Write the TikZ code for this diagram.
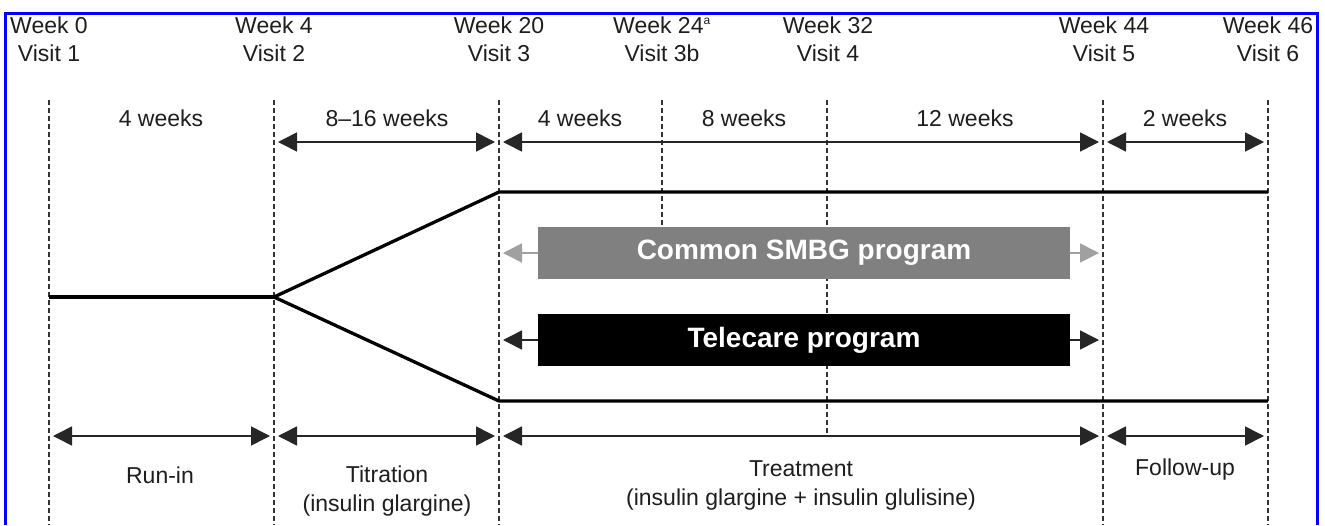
\documentclass[tikz,border=0pt]{standalone}
\usepackage{fontspec}
\setmainfont{Liberation Sans}
\usetikzlibrary{arrows.meta}
\definecolor{framblue}{RGB}{0,0,255}
\definecolor{boxgray}{RGB}{128,128,128}
\definecolor{arrgray}{RGB}{160,160,160}
\definecolor{txtgray}{RGB}{30,30,30}
\tikzset{
  bigtip/.tip={Triangle[length=19pt,width=19pt]},
  vline/.style={draw=black!80, line width=1.1pt, dash pattern=on 5pt off 3pt},
  armline/.style={draw=black, line width=3.3pt},
  span/.style={draw=black!85, line width=1.6pt, bigtip-bigtip},
  prog/.style={minimum width=532pt, minimum height=52pt, inner sep=0pt, text=white, font=\fontsize{28}{30}\selectfont\bfseries},
  lbl/.style={text=txtgray, font=\fontsize{23}{29}\selectfont, inner sep=0pt, align=center},
  hdr/.style={text=txtgray, font=\fontsize{23}{28}\selectfont, inner sep=0pt, align=center, anchor=north},
  progarrow/.style={line width=1.6pt, -bigtip}
}
\begin{document}
\begin{tikzpicture}[x=1pt,y=-1pt]
\useasboundingbox (0,0) rectangle (1325,525);
\fill[white] (0,0) rectangle (1325,525);
% frame
\draw[framblue, line width=3pt] (5,525) -- (5,13) -- (1317,13) -- (1317,525);

% column coordinates
\coordinate (atop) at (49,100);   \coordinate (abot) at (49,525);
\coordinate (btop) at (274,100);  \coordinate (bbot) at (274,525);
\coordinate (ctop) at (499,100);  \coordinate (cbot) at (499,525);
\coordinate (dtop) at (662,100);  \coordinate (dend) at (662,227);
\coordinate (etop) at (827,100);  \coordinate (eend) at (827,436);
\coordinate (ftop) at (1103,100); \coordinate (fbot) at (1103,525);
\coordinate (gtop) at (1268,100); \coordinate (gbot) at (1268,525);

% dashed lines
\draw[vline] (atop) -- (abot);
\draw[vline] (btop) -- (bbot);
\draw[vline] (ctop) -- (cbot);
\draw[vline] (dtop) -- (dend);
\draw[vline] (etop) -- (eend);
\draw[vline] (ftop) -- (fbot);
\draw[vline] (gtop) -- (gbot);

% headers
\node[hdr] (h1) at (49,17) {Week 0\\Visit 1};
\node[hdr] (h2) at (274,17) {Week 4\\Visit 2};
\node[hdr] (h3) at (499,17) {Week 20\\Visit 3};
\node[hdr] (h4) at (662,17) {Week 24\textsuperscript{\fontsize{12}{12}\selectfont a}\\Visit 3b};
\node[hdr] (h5) at (828,17) {Week 32\\Visit 4};
\node[hdr] (h6) at (1104,17) {Week 44\\Visit 5};
\node[hdr] (h7) at (1268,17) {Week 46\\Visit 6};

% durations
\node[lbl] (d1) at (161,118) {4 weeks};
\node[lbl] (d2) at (387,118) {8--16 weeks};
\node[lbl] (d3) at (580,118) {4 weeks};
\node[lbl] (d4) at (744,118) {8 weeks};
\node[lbl] (d5) at (965,118) {12 weeks};
\node[lbl] (d6) at (1185,118) {2 weeks};

% top span arrows
\coordinate (t1l) at (278,142); \coordinate (t1r) at (495,142);
\coordinate (t2l) at (503,142); \coordinate (t2r) at (1099,142);
\coordinate (t3l) at (1107,142); \coordinate (t3r) at (1264,142);
\draw[span] (t1l) -- (t1r);
\draw[span] (t2l) -- (t2r);
\draw[span] (t3l) -- (t3r);

% arms
\coordinate (runS) at (49,297);
\coordinate (split) at (274,297);
\coordinate (upS) at (499,192);
\coordinate (upE) at (1268,192);
\coordinate (loS) at (499,401);
\coordinate (loE) at (1268,401);
\draw[armline] (runS) -- (split);
\draw[armline, line join=round] (split) -- (upS) -- (upE);
\draw[armline, line join=round] (split) -- (loS) -- (loE);

% programs
\node[prog, fill=boxgray] (smbg) at (804,253) {Common SMBG program};
\node[prog, fill=black] (tele) at (804,340) {Telecare program};
\coordinate (sl) at (503,253); \coordinate (sr) at (1099,253);
\coordinate (tl) at (503,340); \coordinate (tr) at (1099,340);
\draw[progarrow, draw=arrgray, fill=arrgray] (smbg.west) -- (sl);
\draw[progarrow, draw=arrgray, fill=arrgray] (smbg.east) -- (sr);
\draw[progarrow, draw=black!85] (tele.west) -- (tl);
\draw[progarrow, draw=black!85] (tele.east) -- (tr);

% bottom span arrows
\coordinate (b1l) at (53,436); \coordinate (b1r) at (270,436);
\coordinate (b2l) at (278,436); \coordinate (b2r) at (495,436);
\coordinate (b3l) at (503,436); \coordinate (b3r) at (1099,436);
\coordinate (b4l) at (1107,436); \coordinate (b4r) at (1264,436);
\draw[span] (b1l) -- (b1r);
\draw[span] (b2l) -- (b2r);
\draw[span] (b3l) -- (b3r);
\draw[span] (b4l) -- (b4r);

% bottom labels
\node[lbl, anchor=base] (p1) at (160,483) {Run-in};
\node[lbl, anchor=base] (p2) at (387,511) {Titration\\(insulin glargine)};
\node[lbl, anchor=base] (p3) at (801,505) {Treatment\\(insulin glargine + insulin glulisine)};
\node[lbl, anchor=base] (p4) at (1185,475) {Follow-up};
\end{tikzpicture}
\end{document}
